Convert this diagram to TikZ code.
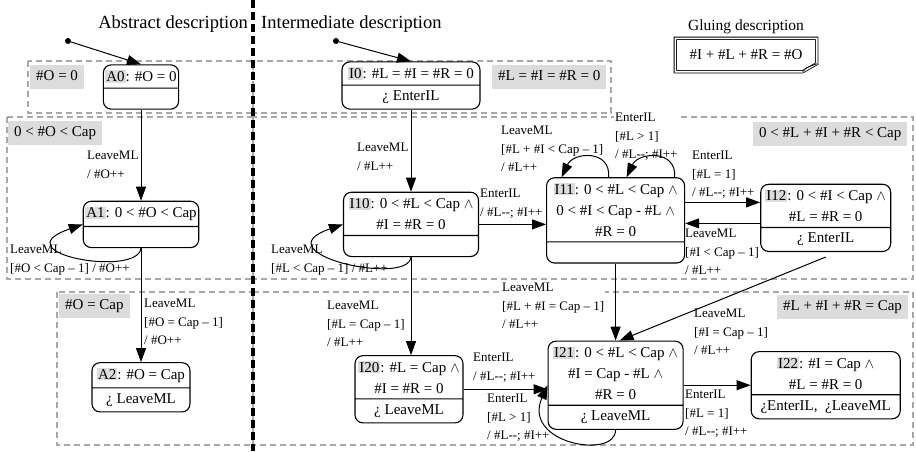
\documentclass[tikz,border=0pt]{standalone}
\usepackage{fontspec}
\setmainfont{Liberation Serif}
\usepackage{xcolor}
\usepackage{tikz}
\usetikzlibrary{positioning,shapes.multipart,arrows.meta}
\definecolor{Ink}{HTML}{000000}
\definecolor{ZoneGray}{HTML}{A8A8A8}
\definecolor{TagGray}{HTML}{DCDCDC}
\definecolor{White}{HTML}{FFFFFF}

\newcommand{\stname}[1]{{\setlength{\fboxsep}{1pt}\colorbox{TagGray}{#1}}}

\begin{document}
\begin{tikzpicture}[x=1pt, y=1pt, >={Triangle[length=14pt,width=10pt]}]
  \tikzstyle{state} = [rectangle split, rectangle split parts=2, draw=Ink, line width=1.1pt, rounded corners=8pt, align=center, inner xsep=2pt, inner ysep=5pt, rectangle split empty part height=10pt, font=\fontsize{15}{21}\selectfont]
  \tikzstyle{zone} = [draw=ZoneGray, line width=1.6pt, dash pattern=on 6pt off 4pt]
  \tikzstyle{zonetag} = [fill=TagGray, anchor=north west, inner xsep=6pt, inner ysep=5pt, text height=10.5pt, text depth=3.3pt, font=\fontsize{15}{18}\selectfont]
  \tikzstyle{trans} = [anchor=north west, align=left, inner sep=1pt, font=\fontsize{13}{18.5}\selectfont]
  \tikzstyle{edge} = [->, line width=1pt, draw=Ink]
  \tikzstyle{title} = [inner sep=0pt, font=\fontsize{18.5}{22}\selectfont]
  \tikzstyle{initdot} = [circle, fill=Ink, inner sep=0pt, minimum size=6pt]
  \tikzstyle{glue} = [minimum width=141pt, minimum height=33pt, font=\fontsize{15}{18}\selectfont]

  \useasboundingbox (0,0) rectangle (916,-451);

  % regions
  \draw[zone] (28,-61) rectangle (253,-113);
  \draw[zone] (7,-117) rectangle (253,-279);
  \draw[zone] (57,-292) rectangle (253,-445);
  \draw[zone] (253,-61) rectangle (611,-113);
  \draw[zone] (253,-117) rectangle (913,-279);
  \draw[zone] (253,-292) rectangle (913,-445);

  \node[zonetag] (zA0) at (30,-65) {\#O = 0};
  \node[zonetag] (zA1) at (8,-121) {0 < \#O < Cap};
  \node[zonetag] (zA2) at (59,-294) {\#O = Cap};
  \node[zonetag] (zI0) at (492,-65) {\#L = \#I = \#R = 0};
  \node[zonetag] (zI1) at (753,-122) {0 < \#L + \#I + \#R < Cap};
  \node[zonetag] (zI2) at (777,-295) {\#L + \#I + \#R = Cap};

  % divider
  \draw[Ink, line width=4.5pt, dash pattern=on 8pt off 4pt] (253,0) -- (253,-451);

  \node[title, anchor=base east] (tabs) at (248,-28) {Abstract description};
  \node[title, anchor=base west] (tint) at (261,-28) {Intermediate description};

  \node[glue] (glue) at (746,-55) {\#I + \#L + \#R = \#O};
  \node[font=\fontsize{15.5}{18}\selectfont, above=1pt of glue] (tglue) {Gluing description};
  \draw[Ink, line width=0.8pt, double=White, double distance=1.6pt] (glue.north west) -- (glue.north east) -- ([yshift=8pt]glue.south east) -- ([xshift=-14pt]glue.south east) -- (glue.south west) -- cycle;
  \draw[Ink, line width=0.8pt] ([yshift=8pt]glue.south east) -- ([xshift=-10pt,yshift=4pt]glue.south east) -- ([xshift=-14pt]glue.south east);

  % transition labels
  \node[trans] (tA01) at (86,-150) {LeaveML\\/ \#O++};
  \node[trans] (tA11) at (9,-244) {LeaveML\\{}[\#O < Cap – 1] / \#O++};
  \node[trans] (tA12) at (143,-298) {LeaveML\\{}[\#O = Cap – 1]\\/ \#O++};
  \node[trans] (tI010) at (356,-142) {LeaveML\\/ \#L++};
  \node[trans] (tI1010) at (270,-244) {LeaveML\\{}[\#L < Cap – 1] / \#L++};
  \node[trans] (tI1011) at (479,-188) {EnterIL\\/ \#L-{}-; \#I++};
  \node[trans] (tI11a) at (500,-125) {LeaveML\\{}[\#L + \#I < Cap – 1]\\/ \#L++};
  \node[trans, fill=White] (tI11b) at (614,-112) {EnterIL\\{}[\#L > 1]\\/ \#L-{}-; \#I++};
  \node[trans] (tI1112) at (691,-150) {EnterIL\\{}[\#L = 1]\\/ \#L-{}-; \#I++};
  \node[trans] (tI1211) at (684,-228) {LeaveML\\{}[\#I < Cap – 1]\\/ \#L++};
  \node[trans, fill=White] (tI1121) at (501,-282) {LeaveML\\{}[\#L + \#I = Cap – 1]\\/ \#L++};
  \node[trans] (tI1221) at (693,-308) {LeaveML\\{}[\#I = Cap – 1]\\/ \#L++};
  \node[trans] (tI1020) at (326,-300) {LeaveML\\{}[\#L = Cap – 1]\\/ \#L++};
  \node[trans] (tI2021) at (472,-352) {EnterIL\\/ \#L-{}-; \#I++};
  \node[trans] (tI2121) at (486,-393) {EnterIL\\{}[\#L > 1]\\/ \#L-{}-; \#I++};
  \node[trans] (tI2122) at (684,-389) {EnterIL\\{}[\#L = 1]\\/ \#L-{}-; \#I++};

  % abstract machine
  \node[initdot] (dA) at (68,-41) {};
  \node[state, minimum width=72pt] (A0) at (141,-87) {\stname{A0}: \#O = 0};
  \node[state, minimum width=111pt, below=91pt of A0] (A1) {\stname{A1}: 0 < \#O < Cap};
  \node[state, minimum width=98pt, below=114pt of A1] (A2) {\stname{A2}: \#O = Cap \nodepart{two} ¿ LeaveML};

  % intermediate machine
  \node[initdot] (dI) at (336,-41) {};
  \node[state, minimum width=138pt] (I0) at (411,-85.5) {\stname{I0}: \#L = \#I = \#R = 0 \nodepart{two} ¿ EnterIL};
  \node[state, minimum width=135pt, below=82pt of I0] (I10) {\stname{I10}: 0 < \#L < Cap $\wedge$\\\#I = \#R = 0};
  \node[state, minimum width=138pt, right=67pt of I10, yshift=4pt] (I11) {\stname{I11}: 0 < \#L < Cap $\wedge$\\0 < \#I < Cap - \#L $\wedge$\\\#R = 0};
  \node[state, minimum width=130pt, right=75pt of I11, yshift=2.5pt] (I12) {\stname{I12}: 0 < \#I < Cap $\wedge$\\\#L = \#R = 0 \nodepart{two} ¿ EnterIL};
  \node[state, minimum width=108pt, below=98pt of I10, xshift=-2pt] (I20) {\stname{I20}: \#L = Cap $\wedge$\\\#I = \#R = 0 \nodepart{two} ¿ LeaveML};
  \node[state, minimum width=135pt, below=77pt of I11] (I21) {\stname{I21}: 0 < \#L < Cap $\wedge$\\\#I = Cap - \#L $\wedge$\\\#R = 0 \nodepart{two} ¿ LeaveML};
  \node[state, minimum width=149pt, right=67pt of I21] (I22) {\stname{I22}: \#I = Cap $\wedge$\\\#L = \#R = 0 \nodepart{two} ¿EnterIL,\ \ ¿LeaveML};

  \draw[edge] (dA) -- (A0.north);
  \draw[edge] (A0.south) -- (A1.north);
  \draw[edge] (A1.south) to[out=-96, in=199, out distance=30pt, in distance=88pt] (A1.west);
  \draw[edge] (A1.south) -- (A2.north);

  \draw[edge] (dI) -- (I0.north);
  \draw[edge] (I0.south) -- (I10.north);
  \draw[edge] (I10.south) to[out=-96, in=199, out distance=30pt, in distance=88pt] (I10.west);
  \draw[edge] (I10.east) -- (I10.east -| I11.west);
  \draw[edge] ([xshift=-7pt]I11.north) to[out=85, in=65, distance=28pt] ([xshift=-54pt]I11.north);
  \draw[edge] ([xshift=59pt]I11.north) to[out=85, in=65, distance=28pt] ([xshift=11pt]I11.north);
  \draw[edge] ([yshift=18pt]I11.east) -- ([yshift=15.5pt]I12.west);
  \draw[edge] ([yshift=-5.5pt]I12.west) -- ([yshift=-3pt]I11.east);
  \draw[edge] (I11.south) -- (I21.north);
  \draw[edge] ([yshift=-5pt]I12.south) -- ([xshift=4pt]I21.north);
  \draw[edge] (I10.south) -- (I10.south |- I20.north);
  \draw[edge] (I20.east) -- (I20.east -| I21.west);
  \draw[edge] (I21.south) to[out=-90, in=246, out distance=30pt, in distance=64pt] (I21.west);
  \draw[edge] (I21.east) -- (I21.east -| I22.west);
\end{tikzpicture}
\end{document}
